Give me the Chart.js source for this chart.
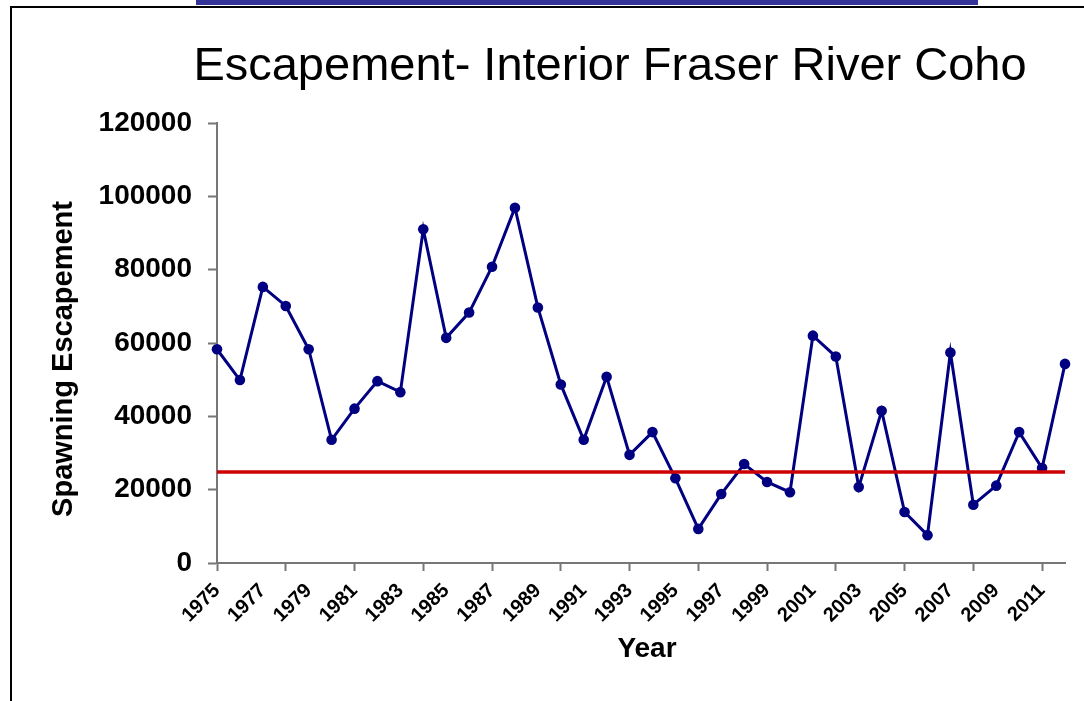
<!DOCTYPE html>
<html><head><meta charset="utf-8">
<script src="https://cdn.jsdelivr.net/npm/chart.js@4.4.1/dist/chart.umd.min.js"></script>
<style>html,body{margin:0;padding:0;background:#fff;overflow:hidden}#wrap{width:1084px;height:701px;position:relative}</style>
</head><body><div id="wrap"><canvas id="c" width="1084" height="701"></canvas></div>
<script>
const chartTitle = 'Escapement- Interior Fraser River Coho';
const xAxisTitle = 'Year';
const yAxisTitle = 'Spawning Escapement';
const years = ['1975','1976','1977','1978','1979','1980','1981','1982','1983','1984',
  '1985','1986','1987','1988','1989','1990','1991','1992','1993','1994',
  '1995','1996','1997','1998','1999','2000','2001','2002','2003','2004',
  '2005','2006','2007','2008','2009','2010','2011','2012'];
const escapement = [58300, 49900, 75300, 70100, 58300, 33600, 42100, 49600, 46600, 91000,
  61400, 68300, 80800, 96900, 69700, 48700, 33600, 50800, 29500, 35700,
  23100, 9300, 18800, 27000, 22100, 19300, 62000, 56300, 20700, 41500,
  13900, 7600, 57400, 15900, 21100, 35700, 25900, 54300];
const referenceYears = ['1975', '2012'];
const referenceLevel = [24800, 24800];
const yMin = 0, yMax = 120000, yStep = 20000;

const FONT = '"Liberation Sans", Arial, Helvetica, sans-serif';

const decor = {
  id: 'decor',
  beforeDraw(chart) {
    const ctx = chart.ctx;
    ctx.save();
    ctx.fillStyle = '#ffffff';
    ctx.fillRect(0, 0, chart.width, chart.height);
    ctx.fillStyle = '#333399';
    ctx.fillRect(196, 0, 782, 5);
    ctx.strokeStyle = '#000000';
    ctx.lineWidth = 2;
    ctx.beginPath();
    ctx.moveTo(11, 701);
    ctx.lineTo(11, 7);
    ctx.lineTo(1084, 7);
    ctx.stroke();
    ctx.restore();
  },
  afterDraw(chart) {
    const ctx = chart.ctx;
    ctx.save();
    ctx.fillStyle = '#000000';
    ctx.textAlign = 'center';
    ctx.textBaseline = 'middle';
    ctx.font = 'normal 47px ' + FONT;
    ctx.fillText(chartTitle, 610, 67);
    ctx.font = 'bold 28px ' + FONT;
    ctx.fillText(xAxisTitle, 647, 649);
    ctx.translate(64, 359);
    ctx.rotate(-Math.PI / 2);
    ctx.font = 'bold 29px ' + FONT;
    ctx.fillText(yAxisTitle, 0, 0);
    ctx.restore();
  }
};

new Chart(document.getElementById('c'), {
  type: 'line',
  data: {
    labels: years,
    datasets: [
      {
        label: 'Reference',
        data: referenceYears.map((y, i) => ({x: y, y: referenceLevel[i]})),
        borderColor: '#cc0000',
        borderWidth: 3.5,
        pointRadius: 0,
        order: 0,
        clip: false
      },
      {
        label: 'Escapement',
        data: escapement,
        borderColor: '#000080',
        backgroundColor: '#000080',
        borderWidth: 3,
        pointRadius: 5.3,
        pointBorderWidth: 0,
        pointBackgroundColor: '#000080',
        tension: 0,
        order: 1,
        clip: false
      }
    ]
  },
  options: {
    responsive: false,
    animation: false,
    layout: { padding: { top: 123, right: 19, bottom: 0, left: 0 } },
    plugins: { legend: { display: false }, tooltip: { enabled: false }, title: { display: false } },
    scales: {
      x: {
        type: 'category',
        offset: false,
        border: { display: true, color: '#777777', width: 2 },
        grid: {
          drawOnChartArea: false,
          drawTicks: true,
          tickLength: 8,
          tickWidth: 2,
          tickColor: (c) => (c.index % 3 === 0 ? '#777777' : 'rgba(0,0,0,0)')
        },
        ticks: {
          autoSkip: false,
          minRotation: 45,
          maxRotation: 45,
          padding: 8,
          color: '#000000',
          font: { family: FONT, weight: 'bold', size: 20 },
          callback: function(v, i) { return i % 2 === 0 ? this.getLabelForValue(v) : ''; }
        },
        title: { display: false, text: xAxisTitle },
        afterFit: (s) => { s.height = 701 - 563; s.paddingLeft = 0; s.paddingRight = 0; }
      },
      y: {
        min: yMin,
        max: yMax,
        border: { display: true, color: '#777777', width: 2 },
        grid: { drawOnChartArea: false, drawTicks: true, tickLength: 9, tickWidth: 2, tickColor: '#777777' },
        ticks: {
          stepSize: yStep,
          padding: 16,
          color: '#000000',
          font: { family: FONT, weight: 'bold', size: 28 },
          callback: (v) => String(v)
        },
        title: { display: false, text: yAxisTitle },
        afterFit: (s) => { s.width = 217; }
      }
    }
  },
  plugins: [decor]
});
</script>
</body></html>
